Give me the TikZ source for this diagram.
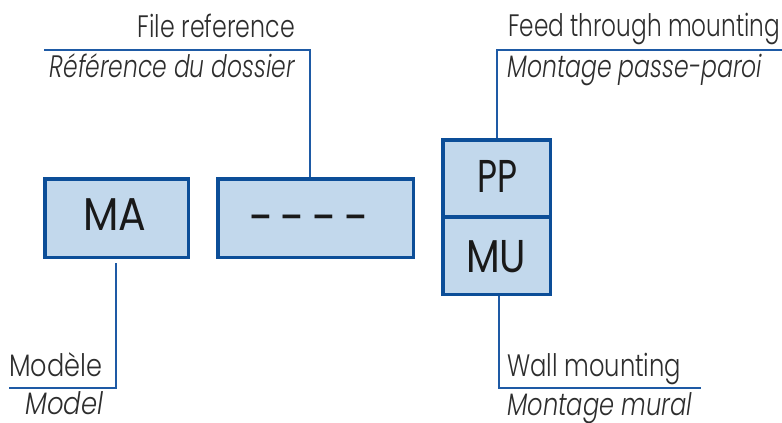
\documentclass[tikz,border=0pt]{standalone}
\usepackage{fontspec}
\usepackage{graphicx}
\setmainfont{Poppins}[UprightFont=* Light, ItalicFont=* Light Italic]
\newfontfamily\boxfont{Poppins}
\definecolor{fillblue}{RGB}{194,216,236}
\definecolor{edgeblue}{RGB}{12,78,152}
\definecolor{lineblue}{RGB}{30,90,165}
\definecolor{txtgray}{RGB}{45,45,45}
\newcommand{\fitw}[2]{\resizebox{#1}{\height}{#2}}
\newcommand{\nodepth}[1]{\raisebox{0pt}[\height][0pt]{#1}}
\begin{document}
\begin{tikzpicture}[x=1pt,y=-1pt,
  boxnode/.style={draw=edgeblue, line width=3.5pt, fill=fillblue, inner sep=0pt},
  boxtext/.style={inner sep=0pt, font=\boxfont\fontsize{46}{46}\selectfont, text=black!90},
  lbl/.style={inner sep=0pt, font=\fontsize{31}{31}\selectfont, text=txtgray},
  conn/.style={draw=lineblue, line width=1.8pt}]
\useasboundingbox (0,0) rectangle (782,423);
% boxes
\node[boxnode, minimum width=143.5pt, minimum height=78.5pt] (ma) at (116.5,218) {};
\node[boxnode, minimum width=195.5pt, minimum height=78.5pt] (ref) at (315.5,218) {};
\node[boxnode, minimum width=107.5pt, minimum height=77.25pt] (pp) at (496.5,178.375) {};
\node[boxnode, minimum width=107.5pt, minimum height=77.25pt] (mu) at (496.5,255.625) {};
% box texts
\node[boxtext, anchor=base west] (matxt) at (83,230) {\fitw{63pt}{MA}};
\node[boxtext, anchor=base west, font=\boxfont\fontsize{48}{48}\selectfont] (reftxt) at (249,234) {\fitw{118pt}{– – – –}};
\node[boxtext, anchor=base west] (pptxt) at (477,192) {\fitw{40pt}{PP}};
\node[boxtext, anchor=base west] (mutxt) at (466,272) {\fitw{60pt}{MU}};
% labels
\node[lbl, anchor=base east] (fileen) at (295,37) {\fitw{157pt}{File reference}};
\node[lbl, anchor=base east] (filefr) at (295,77) {\fitw{245pt}{\itshape Référence du dossier}};
\node[lbl, anchor=base west] (feeden) at (508,37) {\fitw{272pt}{Feed through mounting}};
\node[lbl, anchor=base west] (feedfr) at (507,77) {\fitw{255pt}{\itshape Montage passe-paroi}};
\node[lbl, anchor=base west] (modfr) at (9,376) {\fitw{93pt}{Modèle}};
\node[lbl, anchor=base west] (moden) at (25,414) {\nodepth{\fitw{78pt}{\itshape Model}}};
\node[lbl, anchor=base west] (wallen) at (507,376) {\fitw{174pt}{Wall mounting}};
\node[lbl, anchor=base west] (wallfr) at (507,415) {\nodepth{\fitw{185pt}{\itshape Montage mural}}};
% connector coordinates
\coordinate (mab) at (116,388);
\coordinate (mae) at (9,388);
\coordinate (refb) at (310,50);
\coordinate (refe) at (44,50);
\coordinate (ppb) at (497,50);
\coordinate (ppe) at (782,50);
\coordinate (mub) at (499,388);
\coordinate (mue) at (701,388);
% connectors
\draw[conn] ([shift={(-0.5,4)}]ma.south) -- (mab) -- (mae);
\draw[conn] ([xshift=-5.5pt]ref.north) -- (refb) -- (refe);
\draw[conn] ([xshift=0.5pt]pp.north) -- (ppb) -- (ppe);
\draw[conn] ([xshift=2.5pt]mu.south) -- (mub) -- (mue);
\end{tikzpicture}
\end{document}
